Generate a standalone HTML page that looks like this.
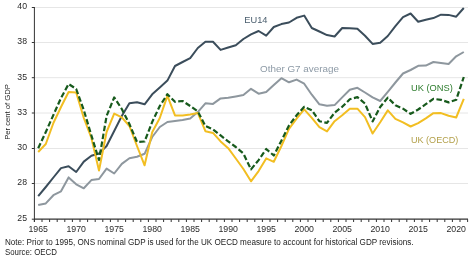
<!DOCTYPE html>
<html><head><meta charset="utf-8"><style>
html,body{margin:0;padding:0;background:#fff;width:474px;height:259px;overflow:hidden}
svg{display:block;will-change:transform;font-family:"Liberation Sans",sans-serif}
</style></head><body>
<svg width="474" height="259" viewBox="0 0 474 259">

<g stroke="#e6e6e6" stroke-width="1"><line x1="35" y1="7.5" x2="468" y2="7.5"/><line x1="35" y1="42.5" x2="468" y2="42.5"/><line x1="35" y1="77.7" x2="468" y2="77.7"/><line x1="35" y1="113" x2="468" y2="113"/><line x1="35" y1="148.5" x2="468" y2="148.5"/><line x1="35" y1="183.5" x2="468" y2="183.5"/></g>
<polyline points="38.2,205.0 45.8,203.4 53.4,195.2 61.0,191.3 68.6,177.4 76.2,184.3 83.8,188.3 91.4,180.1 99.0,179.0 106.6,168.6 114.2,173.5 121.8,163.9 129.4,158.3 137.0,156.8 144.6,153.8 152.2,137.0 159.8,127.0 167.4,122.0 175.0,121.0 182.6,120.0 190.2,118.4 197.8,112.1 205.4,103.3 213.0,103.9 220.6,98.4 228.2,97.8 235.8,96.5 243.4,95.1 251.0,88.8 258.6,93.7 266.2,92.1 273.8,85.0 281.4,78.2 289.0,82.3 296.6,79.6 304.2,83.7 311.8,94.7 319.4,104.3 327.0,105.7 334.6,105.1 342.2,97.4 349.8,89.7 357.4,87.8 365.0,92.5 372.6,97.4 380.2,101.0 387.8,91.9 395.4,82.5 403.0,73.5 410.6,70.0 418.2,65.8 425.8,65.6 433.4,62.0 441.0,63.0 448.6,64.0 456.2,56.3 463.8,52.0" fill="none" stroke="#8e979e" stroke-width="2" stroke-linejoin="round"/>
<polyline points="38.2,196.2 45.8,187.0 53.4,177.5 61.0,168.1 68.6,166.2 76.2,172.0 83.8,161.6 91.4,155.8 99.0,153.5 106.6,146.0 114.2,131.0 121.8,116.0 129.4,103.2 137.0,102.2 144.6,104.3 152.2,94.3 159.8,87.4 167.4,80.6 175.0,66.0 182.6,62.0 190.2,58.1 197.8,48.0 205.4,41.7 213.0,41.7 220.6,49.9 228.2,47.5 235.8,45.3 243.4,39.0 251.0,34.3 258.6,31.0 266.2,35.7 273.8,27.0 281.4,24.1 289.0,22.5 296.6,17.8 304.2,15.6 311.8,28.0 319.4,31.5 327.0,35.1 334.6,36.5 342.2,28.0 349.8,28.2 357.4,28.8 365.0,35.7 372.6,43.9 380.2,42.8 387.8,36.0 395.4,26.1 403.0,17.1 410.6,13.5 418.2,21.7 425.8,19.7 433.4,18.1 441.0,14.7 448.6,14.9 456.2,16.7 463.8,8.0" fill="none" stroke="#3b4d5b" stroke-width="2" stroke-linejoin="round"/>
<polyline points="38.2,152.0 45.8,144.0 53.4,123.0 61.0,107.0 68.6,92.0 76.2,92.5 83.8,118.0 91.4,138.0 99.0,170.5 106.6,132.0 114.2,113.6 121.8,117.4 129.4,126.0 137.0,146.0 144.6,165.3 152.2,132.2 159.8,118.0 167.4,95.9 175.0,115.4 182.6,115.4 190.2,114.6 197.8,112.9 205.4,131.2 213.0,132.9 220.6,141.4 228.2,148.2 235.8,158.5 243.4,169.0 251.0,181.3 258.6,171.1 266.2,158.4 273.8,161.8 281.4,146.0 289.0,128.9 296.6,118.7 304.2,109.3 311.8,117.8 319.4,127.2 327.0,131.4 334.6,121.2 342.2,115.3 349.8,108.7 357.4,108.7 365.0,117.2 372.6,133.5 380.2,122.3 387.8,110.4 395.4,118.9 403.0,122.3 410.6,126.5 418.2,123.1 425.8,118.4 433.4,113.2 441.0,113.1 448.6,115.8 456.2,117.5 463.8,98.9" fill="none" stroke="#f2be22" stroke-width="2" stroke-linejoin="round"/>
<polyline points="38.2,148.2 45.8,132.0 53.4,115.0 61.0,98.0 68.6,84.0 76.2,89.0 83.8,110.0 91.4,135.5 99.0,160.0 106.6,116.0 114.2,97.4 121.8,109.0 129.4,124.0 137.0,142.0 144.6,141.5 152.2,122.0 159.8,106.0 167.4,94.2 175.0,101.8 182.6,101.0 190.2,106.0 197.8,111.4 205.4,126.0 213.0,129.5 220.6,135.4 228.2,141.4 235.8,147.0 243.4,153.5 251.0,169.4 258.6,160.1 266.2,149.0 273.8,155.5 281.4,140.7 289.0,125.5 296.6,115.3 304.2,106.8 311.8,110.2 319.4,121.2 327.0,122.9 334.6,112.7 342.2,106.8 349.8,99.3 357.4,97.1 365.0,103.6 372.6,121.4 380.2,107.0 387.8,97.6 395.4,105.3 403.0,108.7 410.6,113.8 418.2,109.5 425.8,104.2 433.4,98.9 441.0,99.8 448.6,102.4 456.2,99.8 463.8,77.0" fill="none" stroke="#175a1c" stroke-width="2.2" stroke-dasharray="5.5 2.5" stroke-linejoin="round"/>
<g stroke="#333" stroke-width="1">
<line x1="34.4" y1="7" x2="34.4" y2="222"/>
<line x1="31.8" y1="7.5" x2="34.4" y2="7.5"/><line x1="31.8" y1="42.5" x2="34.4" y2="42.5"/><line x1="31.8" y1="77.7" x2="34.4" y2="77.7"/><line x1="31.8" y1="113" x2="34.4" y2="113"/><line x1="31.8" y1="148.5" x2="34.4" y2="148.5"/><line x1="31.8" y1="183.5" x2="34.4" y2="183.5"/><line x1="31.8" y1="219.2" x2="34.4" y2="219.2"/>
<line x1="34" y1="219.2" x2="468" y2="219.2" stroke-width="1.3"/>
<line x1="34.40" y1="219.2" x2="34.40" y2="222"/><line x1="42.00" y1="219.2" x2="42.00" y2="222"/><line x1="49.60" y1="219.2" x2="49.60" y2="222"/><line x1="57.20" y1="219.2" x2="57.20" y2="222"/><line x1="64.80" y1="219.2" x2="64.80" y2="222"/><line x1="72.40" y1="219.2" x2="72.40" y2="222"/><line x1="80.00" y1="219.2" x2="80.00" y2="222"/><line x1="87.60" y1="219.2" x2="87.60" y2="222"/><line x1="95.20" y1="219.2" x2="95.20" y2="222"/><line x1="102.80" y1="219.2" x2="102.80" y2="222"/><line x1="110.40" y1="219.2" x2="110.40" y2="222"/><line x1="118.00" y1="219.2" x2="118.00" y2="222"/><line x1="125.60" y1="219.2" x2="125.60" y2="222"/><line x1="133.20" y1="219.2" x2="133.20" y2="222"/><line x1="140.80" y1="219.2" x2="140.80" y2="222"/><line x1="148.40" y1="219.2" x2="148.40" y2="222"/><line x1="156.00" y1="219.2" x2="156.00" y2="222"/><line x1="163.60" y1="219.2" x2="163.60" y2="222"/><line x1="171.20" y1="219.2" x2="171.20" y2="222"/><line x1="178.80" y1="219.2" x2="178.80" y2="222"/><line x1="186.40" y1="219.2" x2="186.40" y2="222"/><line x1="194.00" y1="219.2" x2="194.00" y2="222"/><line x1="201.60" y1="219.2" x2="201.60" y2="222"/><line x1="209.20" y1="219.2" x2="209.20" y2="222"/><line x1="216.80" y1="219.2" x2="216.80" y2="222"/><line x1="224.40" y1="219.2" x2="224.40" y2="222"/><line x1="232.00" y1="219.2" x2="232.00" y2="222"/><line x1="239.60" y1="219.2" x2="239.60" y2="222"/><line x1="247.20" y1="219.2" x2="247.20" y2="222"/><line x1="254.80" y1="219.2" x2="254.80" y2="222"/><line x1="262.40" y1="219.2" x2="262.40" y2="222"/><line x1="270.00" y1="219.2" x2="270.00" y2="222"/><line x1="277.60" y1="219.2" x2="277.60" y2="222"/><line x1="285.20" y1="219.2" x2="285.20" y2="222"/><line x1="292.80" y1="219.2" x2="292.80" y2="222"/><line x1="300.40" y1="219.2" x2="300.40" y2="222"/><line x1="308.00" y1="219.2" x2="308.00" y2="222"/><line x1="315.60" y1="219.2" x2="315.60" y2="222"/><line x1="323.20" y1="219.2" x2="323.20" y2="222"/><line x1="330.80" y1="219.2" x2="330.80" y2="222"/><line x1="338.40" y1="219.2" x2="338.40" y2="222"/><line x1="346.00" y1="219.2" x2="346.00" y2="222"/><line x1="353.60" y1="219.2" x2="353.60" y2="222"/><line x1="361.20" y1="219.2" x2="361.20" y2="222"/><line x1="368.80" y1="219.2" x2="368.80" y2="222"/><line x1="376.40" y1="219.2" x2="376.40" y2="222"/><line x1="384.00" y1="219.2" x2="384.00" y2="222"/><line x1="391.60" y1="219.2" x2="391.60" y2="222"/><line x1="399.20" y1="219.2" x2="399.20" y2="222"/><line x1="406.80" y1="219.2" x2="406.80" y2="222"/><line x1="414.40" y1="219.2" x2="414.40" y2="222"/><line x1="422.00" y1="219.2" x2="422.00" y2="222"/><line x1="429.60" y1="219.2" x2="429.60" y2="222"/><line x1="437.20" y1="219.2" x2="437.20" y2="222"/><line x1="444.80" y1="219.2" x2="444.80" y2="222"/><line x1="452.40" y1="219.2" x2="452.40" y2="222"/><line x1="460.00" y1="219.2" x2="460.00" y2="222"/><line x1="467.60" y1="219.2" x2="467.60" y2="222"/>
</g>

<g fill="#2a2a2a" font-size="8.7"><text x="27" y="9.4" text-anchor="end">40</text><text x="27" y="44.4" text-anchor="end">38</text><text x="27" y="79.6" text-anchor="end">35</text><text x="27" y="114.9" text-anchor="end">33</text><text x="27" y="150.4" text-anchor="end">30</text><text x="27" y="185.4" text-anchor="end">28</text><text x="27" y="221.1" text-anchor="end">25</text></g>
<text transform="translate(10.4,111.9) rotate(-90)" text-anchor="middle" font-size="6.6" fill="#222" textLength="55.7" lengthAdjust="spacingAndGlyphs">Per cent of GDP</text>
<g fill="#2a2a2a" font-size="8.8"><text x="38.2" y="231.9" text-anchor="middle" textLength="19.5" lengthAdjust="spacingAndGlyphs">1965</text><text x="76.2" y="231.9" text-anchor="middle" textLength="19.5" lengthAdjust="spacingAndGlyphs">1970</text><text x="114.2" y="231.9" text-anchor="middle" textLength="19.5" lengthAdjust="spacingAndGlyphs">1975</text><text x="152.2" y="231.9" text-anchor="middle" textLength="19.5" lengthAdjust="spacingAndGlyphs">1980</text><text x="190.2" y="231.9" text-anchor="middle" textLength="19.5" lengthAdjust="spacingAndGlyphs">1985</text><text x="228.2" y="231.9" text-anchor="middle" textLength="19.5" lengthAdjust="spacingAndGlyphs">1990</text><text x="266.2" y="231.9" text-anchor="middle" textLength="19.5" lengthAdjust="spacingAndGlyphs">1995</text><text x="304.2" y="231.9" text-anchor="middle" textLength="19.5" lengthAdjust="spacingAndGlyphs">2000</text><text x="342.2" y="231.9" text-anchor="middle" textLength="19.5" lengthAdjust="spacingAndGlyphs">2005</text><text x="380.2" y="231.9" text-anchor="middle" textLength="19.5" lengthAdjust="spacingAndGlyphs">2010</text><text x="418.2" y="231.9" text-anchor="middle" textLength="19.5" lengthAdjust="spacingAndGlyphs">2015</text><text x="456.2" y="231.9" text-anchor="middle" textLength="19.5" lengthAdjust="spacingAndGlyphs">2020</text></g>
<text x="244.3" y="22.8" font-size="8.8" fill="#4a5e6e" textLength="23.2" lengthAdjust="spacingAndGlyphs">EU14</text>
<text x="260" y="71.8" font-size="9.3" fill="#8d9aa6" textLength="79" lengthAdjust="spacingAndGlyphs">Other G7 average</text>
<text x="411" y="91.3" font-size="9.5" fill="#2e7d2e" textLength="41.8" lengthAdjust="spacingAndGlyphs">UK (ONS)</text>
<text x="411" y="143.4" font-size="9" fill="#b3a04a" textLength="47.3" lengthAdjust="spacingAndGlyphs">UK (OECD)</text>
<text x="4.9" y="245.2" font-size="8.3" fill="#222" textLength="408.7" lengthAdjust="spacingAndGlyphs">Note: Prior to 1995, ONS nominal GDP is used for the UK OECD measure to account for historical GDP revisions.</text>
<text x="4.9" y="254.8" font-size="8.3" fill="#222" textLength="52" lengthAdjust="spacingAndGlyphs">Source: OECD</text>

</svg>
</body></html>
